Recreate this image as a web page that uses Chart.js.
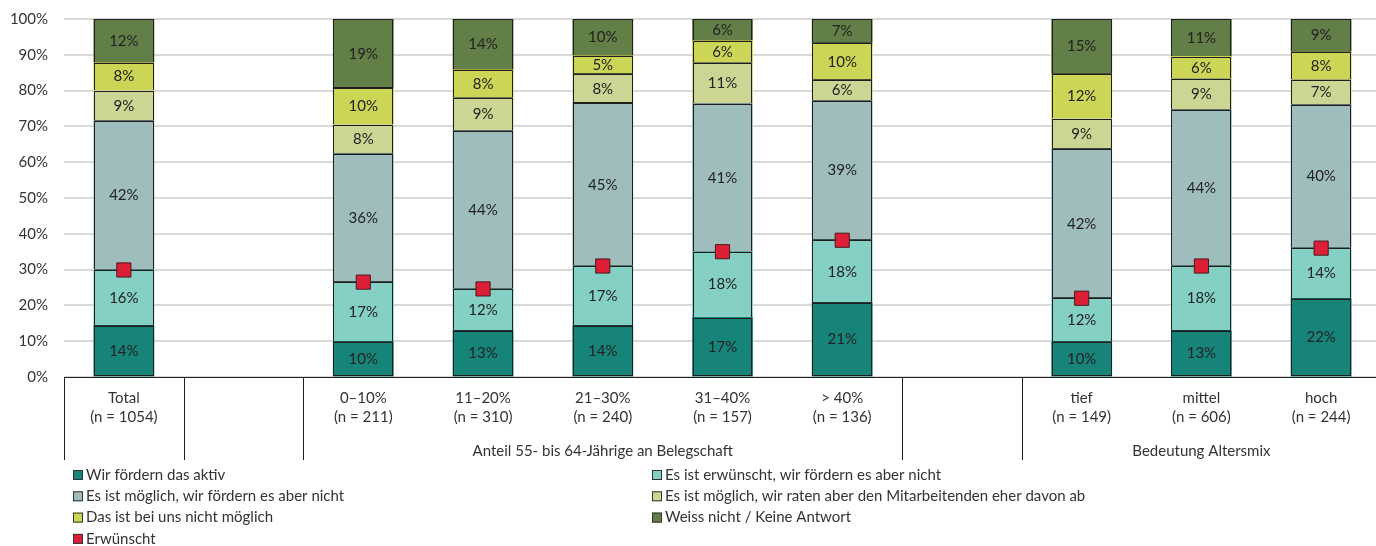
<!DOCTYPE html>
<html>
<head>
<meta charset="utf-8">
<script src="https://cdn.jsdelivr.net/npm/chart.js@4"></script>
<style>
  body { margin: 0; overflow: hidden; background: #fff; }
  #wrap { position: relative; width: 1392px; height: 546px; }
</style>
</head>
<body>
<div id="wrap"><canvas id="barChart"></canvas></div>
<script>
// categories (empty slots keep the groups apart)
const categories = [
    ["Total", "(n = 1054)"], "",
    ["0–10%", "(n = 211)"], ["11–20%", "(n = 310)"], ["21–30%", "(n = 240)"],
    ["31–40%", "(n = 157)"], ["> 40%", "(n = 136)"], "",
    ["tief", "(n = 149)"], ["mittel", "(n = 606)"], ["hoch", "(n = 244)"]
];
const groupLabels = ["Anteil 55- bis 64-Jährige an Belegschaft", "Bedeutung Altersmix"];
const groupRanges = [[2, 6], [8, 10]];

// shares in %
const aktiv         = [14.2, null,  9.8, 12.8, 14.2, 16.6, 20.6, null,  9.8, 12.8, 21.8];
const erwuenscht    = [15.7, null, 16.7, 11.8, 16.8, 18.4, 17.6, null, 12.2, 18.2, 14.2];
const moeglich      = [41.6, null, 35.8, 44.1, 45.4, 41.3, 38.9, null, 41.6, 43.6, 40.0];
const abraten       = [ 8.5, null,  8.2,  9.2,  8.2, 11.4,  5.8, null,  8.6,  8.7,  7.0];
const nichtMoeglich = [ 7.8, null, 10.1,  7.9,  5.1,  6.2, 10.3, null, 12.4,  6.2,  7.8];
const weissNicht    = [12.2, null, 19.4, 14.2, 10.3,  6.1,  6.8, null, 15.4, 10.5,  9.2];
const erwuenschtMarker = [29.9, null, 26.5, 24.6, 31.0, 35.0, 38.2, null, 22.0, 31.0, 36.0];

const yTicks = [0, 10, 20, 30, 40, 50, 60, 70, 80, 90, 100];

const FONT = "Lato, 'Open Sans', sans-serif";
const TEXT = "#333";
const EDGE = "#1e1e1e";

function barSet(label, data, color) {
    return {
        type: "bar", label: label, data: data, stack: "s",
        backgroundColor: color, borderWidth: 0, inflateAmount: 0.5,
        categoryPercentage: 1, barPercentage: 0.5
    };
}

// crisp outlines around each segment, drawn before the markers
const segmentEdges = {
    id: "segmentEdges",
    afterDatasetDraw(chart, args) {
        const ds = chart.data.datasets[args.index];
        if (ds.type !== "bar") return;
        const ctx = chart.ctx;
        ctx.save();
        ctx.strokeStyle = EDGE;
        ctx.lineWidth = 1;
        args.meta.data.forEach((el, j) => {
            if (ds.data[j] == null) return;
            const p = el.getProps(["x", "y", "base", "width"], true);
            const l = Math.round(p.x - p.width / 2) + 0.5;
            const r = Math.round(p.x + p.width / 2) - 0.5;
            const t = Math.round(p.y) + 0.5;
            const b = Math.round(p.base) - 0.5;
            ctx.strokeRect(l, t, r - l, b - t);
        });
        ctx.restore();
    }
};

// value labels in the middle of every segment
const segmentLabels = {
    id: "segmentLabels",
    afterDatasetsDraw(chart) {
        const ctx = chart.ctx;
        ctx.save();
        ctx.font = "15px " + FONT;
        ctx.fillStyle = "#222";
        ctx.textAlign = "center";
        ctx.textBaseline = "middle";
        chart.data.datasets.forEach((ds, i) => {
            if (ds.type !== "bar") return;
            chart.getDatasetMeta(i).data.forEach((el, j) => {
                const v = ds.data[j];
                if (v == null) return;
                ctx.fillText(Math.round(v) + "%", el.x, (el.y + el.base) / 2);
            });
        });
        ctx.restore();
    }
};

// axis frame, group separators, group titles and the legend
const frame = {
    id: "frame",
    afterDraw(chart) {
        const ctx = chart.ctx;
        const x = chart.scales.x;
        const bottom = chart.chartArea.bottom;
        const slot = x.width / categories.length;
        const lineEnd = bottom + 83;
        ctx.save();
        ctx.strokeStyle = EDGE;
        ctx.lineWidth = 1;
        ctx.beginPath();
        ctx.moveTo(x.left, bottom + 0.5);
        ctx.lineTo(chart.width, bottom + 0.5);
        [0, 1, 2, 7, 8].forEach(i => {
            const px = Math.round(x.getPixelForValue(i) - slot / 2) + 0.5;
            ctx.moveTo(px, bottom);
            ctx.lineTo(px, lineEnd);
        });
        ctx.stroke();

        ctx.font = "15px " + FONT;
        ctx.fillStyle = TEXT;
        ctx.textAlign = "center";
        ctx.textBaseline = "middle";
        groupLabels.forEach((g, k) => {
            const r = groupRanges[k];
            const cx = (x.getPixelForValue(r[0]) + x.getPixelForValue(r[1])) / 2;
            ctx.fillText(g, cx, bottom + 74);
        });

        // legend, two columns, marker entry last
        const items = chart.data.datasets.map(ds => ({
            label: ds.label,
            color: ds.type === "bar" ? ds.backgroundColor : ds.pointBackgroundColor
        }));
        const order = [1, 2, 3, 4, 5, 6, 0];
        ctx.textAlign = "left";
        order.forEach((di, n) => {
            const it = items[di];
            const col = n % 2, row = Math.floor(n / 2);
            const lx = col === 0 ? 73 : 652;
            const ly = 475 + row * 21.3;
            ctx.fillStyle = it.color;
            ctx.fillRect(lx, ly - 5, 10, 10);
            ctx.strokeStyle = "#333";
            ctx.strokeRect(lx + 0.5, ly - 4.5, 9, 9);
            ctx.fillStyle = TEXT;
            ctx.fillText(it.label, lx + 13, ly);
        });
        ctx.restore();
    }
};

new Chart(document.getElementById("barChart"), {
    data: {
        labels: categories,
        datasets: [
            {
                type: "line", label: "Erwünscht", data: erwuenschtMarker, stack: "m",
                showLine: false, order: -1,
                pointStyle: "rect", pointRadius: 10, pointHoverRadius: 10,
                pointBackgroundColor: "#dc1f37", pointBorderColor: "#4a1a1a", pointBorderWidth: 1
            },
            barSet("Wir fördern das aktiv", aktiv, "#17847a"),
            barSet("Es ist erwünscht, wir fördern es aber nicht", erwuenscht, "#85d0c5"),
            barSet("Es ist möglich, wir fördern es aber nicht", moeglich, "#9fbdbc"),
            barSet("Es ist möglich, wir raten aber den Mitarbeitenden eher davon ab", abraten, "#cdd594"),
            barSet("Das ist bei uns nicht möglich", nichtMoeglich, "#ccd556"),
            barSet("Weiss nicht / Keine Antwort", weissNicht, "#627f48")
        ]
    },
    options: {
        responsive: true,
        maintainAspectRatio: false,
        animation: false,
        layout: { padding: { left: 0, right: 8, top: 19, bottom: 86 } },
        plugins: { legend: { display: false }, tooltip: { enabled: false } },
        scales: {
            x: {
                stacked: true,
                grid: { display: false },
                border: { display: false },
                ticks: {
                    color: TEXT, font: { family: FONT, size: 15, lineHeight: 1.25 },
                    padding: 4, maxRotation: 0, autoSkip: false
                },
                afterFit(scale) { scale.height = 83; }
            },
            y: {
                stacked: true,
                min: 0, max: 100,
                afterBuildTicks(scale) { scale.ticks = yTicks.map(v => ({ value: v })); },
                // invisible tick marks keep the labels off the plot edge
                grid: { color: "#d9d9d9", lineWidth: 2, drawTicks: true, tickLength: 16, tickColor: "rgba(0,0,0,0)" },
                border: { display: false },
                ticks: {
                    color: TEXT, font: { family: FONT, size: 15 }, padding: 0,
                    callback: v => v + "%"
                },
                afterFit(scale) { scale.width = 64; }
            }
        }
    },
    plugins: [segmentEdges, segmentLabels, frame]
});
</script>
</body>
</html>
